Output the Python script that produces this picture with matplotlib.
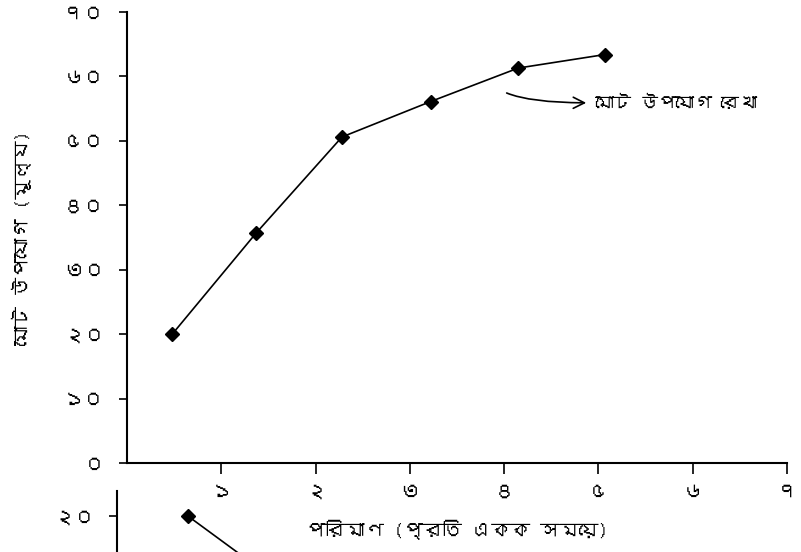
import matplotlib
matplotlib.use("Agg")
import matplotlib.pyplot as plt
from matplotlib import font_manager
from fontTools.ttLib import TTFont

# total utility curve (quantity, utility)
quantity = [0.48, 1.37, 2.28, 3.22, 4.15, 5.07]
utility = [20.0, 35.7, 50.6, 56.1, 61.3, 63.4]

x_ticks = [1, 2, 3, 4, 5, 6, 7]
x_tick_labels = ["১", "২", "৩", "৪", "৫", "৬", "৭"]
y_ticks = [0, 10, 20, 30, 40, 50, 60, 70]
y_tick_labels = ["০", "১০", "২০", "৩০", "৪০", "৫০", "৬০", "৭০"]

x_label = "পরিমাণ (প্রতি একক সময়ে)"
y_label = "মোট উপযোগ (মূল্য)"
curve_label = "মোট উপযোগ রেখা"

# cut-off part of the next figure at the bottom
next_x = [0.75, 1.5]
next_y = [20.0, 12.7]
next_tick = [20]
next_tick_label = ["২০"]


def find_bengali_font():
    for f in font_manager.fontManager.ttflist:
        try:
            tt = TTFont(f.fname, fontNumber=0, lazy=True)
            cmap = tt.getBestCmap()
            if cmap and 0x0995 in cmap:
                return f.name
        except Exception:
            continue
    return None


bn_font = find_bengali_font()
families = [bn_font, "DejaVu Sans"] if bn_font else ["DejaVu Sans"]
plt.rcParams["font.family"] = families

W, H = 801, 552
fig = plt.figure(figsize=(W / 100, H / 100), dpi=100)

# main axes: x 0..7 from px 127 to ~788, y 0..70 from px 463 to 12
ax = fig.add_axes([127 / W, 1 - 463 / H, 660 / W, 451 / H])
ax.plot(quantity, utility, color="black", linewidth=1.2,
        marker="D", markersize=7, markerfacecolor="black")
ax.set_xlim(0, 7)
ax.set_ylim(0, 70)
ax.set_xticks(x_ticks)
ax.set_xticklabels(x_tick_labels, fontsize=15)
ax.set_yticks(y_ticks)
ax.set_yticklabels(y_tick_labels, fontsize=15)
ax.tick_params(axis="x", direction="out", length=8, width=1.2, pad=6)
ax.tick_params(axis="y", direction="out", length=6, width=1.2, pad=10)
for side in ("top", "right"):
    ax.spines[side].set_visible(False)
for side in ("left", "bottom"):
    ax.spines[side].set_linewidth(1.5)

ax.set_xlabel(x_label, fontsize=14, labelpad=14)
ax.set_ylabel(y_label, fontsize=14, labelpad=22)

ax.annotate("", xy=(4.9, 55.9), xytext=(4.0, 57.6),
            arrowprops=dict(arrowstyle="->", color="black", lw=1.2,
                            mutation_scale=20,
                            connectionstyle="angle3,angleA=-25,angleB=0"))
ax.text(4.97, 55.9, curve_label, fontsize=13, ha="left", va="center")

# partial axes of the figure below
ax2 = fig.add_axes([117 / W, 1 - 587 / H, 660 / W, 96 / H])
ax2.patch.set_visible(False)
ax2.plot(next_x, next_y, color="black", linewidth=1.2,
         marker="D", markersize=7, clip_on=False)
ax2.set_xlim(0, 7)
ax2.set_ylim(10, 23.5)
ax2.set_xticks([])
ax2.set_yticks(next_tick)
ax2.set_yticklabels(next_tick_label, fontsize=15)
ax2.tick_params(axis="y", direction="out", length=6, width=1.2, pad=10)
for side in ("top", "right", "bottom"):
    ax2.spines[side].set_visible(False)
ax2.spines["left"].set_linewidth(1.5)

fig.savefig("out.png", dpi=100)
